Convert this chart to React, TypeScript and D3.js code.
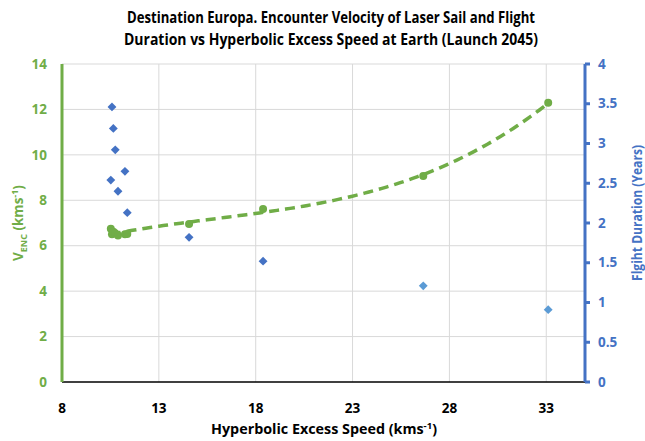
import React from "react";
import * as d3 from "d3";

const speeds = [10.52, 10.58, 10.65, 10.75, 10.89, 11.25, 11.37, 14.56, 18.38, 26.65, 33.1];
const velocity = [6.75, 6.5, 6.62, 6.55, 6.45, 6.5, 6.52, 6.96, 7.62, 9.07, 12.29];
const durationX = [10.58, 10.65, 10.75, 11.25, 10.52, 10.89, 11.37, 14.56, 18.38, 26.65, 33.1];
const duration = [3.46, 3.19, 2.92, 2.65, 2.54, 2.40, 2.13, 1.82, 1.52, 1.21, 0.91];
const durationShade = [0, 0, 0, 0, 0, 0, 0, 0, 0, 1, 1];
const xTicks = [8, 13, 18, 23, 28, 33];
const yLeftTicks = [0, 2, 4, 6, 8, 10, 12, 14];
const yRightTicks = [0, 0.5, 1, 1.5, 2, 2.5, 3, 3.5, 4];
const titleLines = [
  "Destination Europa. Encounter Velocity of Laser Sail and Flight",
  "Duration vs Hyperbolic Excess Speed at Earth (Launch 2045)",
];

const GREEN = "#70ad47";
const BLUE = "#4472c4";
const LIGHTBLUE = "#5b9bd5";
const FONT = "'Open Sans', Lato, sans-serif";

function polyFit(xs: number[], ys: number[], deg: number) {
  const n = deg + 1;
  const M: number[][] = Array.from({ length: n }, () => new Array(n + 1).fill(0));
  xs.forEach((xv, i) => {
    for (let r = 0; r < n; r++) {
      for (let c = 0; c < n; c++) M[r][c] += Math.pow(xv, r + c);
      M[r][n] += ys[i] * Math.pow(xv, r);
    }
  });
  for (let i = 0; i < n; i++) {
    let p = i;
    for (let j = i + 1; j < n; j++) if (Math.abs(M[j][i]) > Math.abs(M[p][i])) p = j;
    [M[i], M[p]] = [M[p], M[i]];
    for (let j = i + 1; j < n; j++) {
      const f = M[j][i] / M[i][i];
      for (let k = i; k <= n; k++) M[j][k] -= f * M[i][k];
    }
  }
  const coef = new Array(n).fill(0);
  for (let i = n - 1; i >= 0; i--) {
    let s = M[i][n];
    for (let k = i + 1; k < n; k++) s -= M[i][k] * coef[k];
    coef[i] = s / M[i][i];
  }
  return (xv: number) => coef.reduce((acc, c, k) => acc + c * Math.pow(xv, k), 0);
}

export default function App() {
  const W = 645, H = 441;
  const left = 62, right = 585, top = 64, bottom = 382;
  const x = d3.scaleLinear().domain([8, 35]).range([left, right]);
  const yL = d3.scaleLinear().domain([0, 14]).range([bottom, top]);
  const yR = d3.scaleLinear().domain([0, 4]).range([bottom, top]);

  const fit = polyFit(speeds, velocity, 3);
  const x0 = d3.min(speeds)!, x1 = d3.max(speeds)!;
  const trendPts = d3.range(0, 101).map((i) => {
    const xv = x0 + ((x1 - x0) * i) / 100;
    return [xv, fit(xv)] as [number, number];
  });
  const line = d3.line<[number, number]>().x((d) => x(d[0])).y((d) => yL(d[1]));
  const diamond = d3.symbol().type(d3.symbolDiamond2).size(50)();

  return (
    <svg width={W} height={H} style={{ position: "absolute", left: 0, top: 0, background: "#fff" }} fontFamily={FONT}>
      <rect width={W} height={H} fill="#fff" />
      {titleLines.map((t, i) => (
        <text key={i} x={331} y={23 + i * 22} textAnchor="middle" fontSize={15.5} fontWeight="bold" fill="#000"
          textLength={i === 0 ? 408 : 414} lengthAdjust="spacingAndGlyphs">{t}</text>
      ))}
      {yLeftTicks.filter((t) => t > 0).map((t) => (
        <line key={"gy" + t} x1={left} x2={right} y1={yL(t)} y2={yL(t)} stroke="#d9d9d9" strokeWidth={1} />
      ))}
      {xTicks.filter((t) => t > 8).map((t) => (
        <line key={"gx" + t} x1={x(t)} x2={x(t)} y1={top} y2={bottom} stroke="#d9d9d9" strokeWidth={1} />
      ))}
      <line x1={left} x2={right} y1={bottom} y2={bottom} stroke="#000" strokeWidth={1.5} />
      {xTicks.map((t) => (
        <text key={"xt" + t} x={x(t)} y={413} textAnchor="middle" fontSize={13.5} fontWeight="bold" fill="#000">{t}</text>
      ))}
      <text x={324} y={434} textAnchor="middle" fontSize={13.5} fontWeight="bold" fill="#000"
        textLength={226} lengthAdjust="spacingAndGlyphs">
        Hyperbolic Excess Speed (kms<tspan dy={-5} fontSize={9}>-1</tspan><tspan dy={5}>)</tspan>
      </text>
      <line x1={left} x2={left} y1={top} y2={bottom} stroke={GREEN} strokeWidth={3} />
      {yLeftTicks.map((t) => (
        <text key={"yl" + t} x={47} y={yL(t)} dy="0.35em" textAnchor="end" fontSize={13.5} fontWeight="bold" fill={GREEN}>{t}</text>
      ))}
      <text transform={`translate(23,223) rotate(-90)`} textAnchor="middle" fontSize={13.5} fontWeight="bold" fill={GREEN}>
        V<tspan dy={4} fontSize={9}>ENC</tspan><tspan dy={-4}> (kms</tspan><tspan dy={-5} fontSize={9}>-1</tspan><tspan dy={5}>)</tspan>
      </text>
      <line x1={right} x2={right} y1={top} y2={bottom} stroke={BLUE} strokeWidth={3} />
      {yRightTicks.map((t) => (
        <g key={"yr" + t}>
          <line x1={right} x2={right + 5} y1={yR(t)} y2={yR(t)} stroke={BLUE} strokeWidth={3} />
          <text x={598} y={yR(t)} dy="0.35em" textAnchor="start" fontSize={13.5} fontWeight="bold" fill={BLUE}>{t}</text>
        </g>
      ))}
      <text transform={`translate(637,213) rotate(-90)`} textAnchor="middle" dominantBaseline="central" fontSize={13.5} fontWeight="bold" fill={BLUE}
        textLength={136} lengthAdjust="spacingAndGlyphs">
        Flgiht Duration (Years)
      </text>
      {duration.map((d, i) => (
        <path key={"d" + i} d={diamond!} transform={`translate(${x(durationX[i])},${yR(d)})`} fill={durationShade[i] ? LIGHTBLUE : BLUE} />
      ))}
      <path d={line(trendPts)!} fill="none" stroke={GREEN} strokeWidth={3.5} strokeDasharray="10,6" strokeLinecap="butt" />
      {velocity.map((v, i) => (
        <circle key={"v" + i} cx={x(speeds[i])} cy={yL(v)} r={4} fill={GREEN} />
      ))}
    </svg>
  );
}
